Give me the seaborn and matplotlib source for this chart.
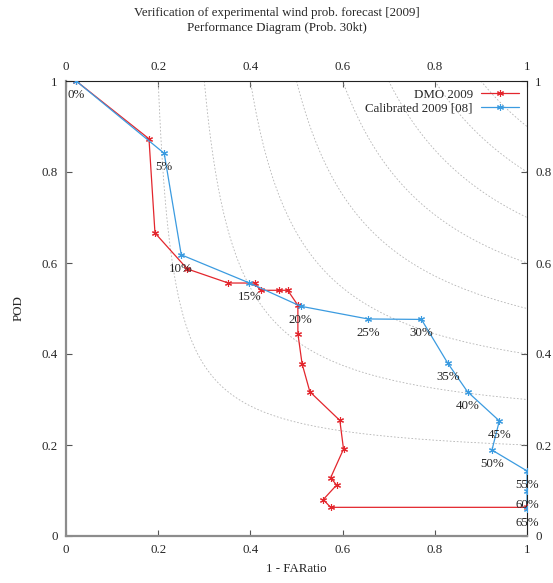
import numpy as np
import matplotlib
matplotlib.use("Agg")
import matplotlib.pyplot as plt
import seaborn as sns

# DMO 2009 (success ratio = 1 - FARatio, POD)
dmo_sr = [0.022, 0.180, 0.193, 0.263, 0.352, 0.409, 0.422, 0.462, 0.481, 0.503,
          0.503, 0.512, 0.529, 0.594, 0.602, 0.574, 0.587, 0.558, 0.574, 1.0]
dmo_pod = [1.0, 0.873, 0.666, 0.587, 0.556, 0.556, 0.540, 0.540, 0.540, 0.507,
           0.445, 0.379, 0.317, 0.254, 0.191, 0.128, 0.112, 0.080, 0.063, 0.063]

# Calibrated 2009 [08]
cal_sr = [0.022, 0.213, 0.250, 0.398, 0.509, 0.655, 0.771, 0.828, 0.871, 0.940,
          0.924, 1.0, 1.0, 1.0]
cal_pod = [1.0, 0.841, 0.618, 0.556, 0.505, 0.477, 0.476, 0.380, 0.317, 0.253,
           0.189, 0.143, 0.098, 0.060]
cal_labels = ["0%", "5%", "10%", "15%", "20%", "25%", "30%", "35%", "40%",
              "45%", "50%", "55%", "60%", "65%"]

# critical success index isolines
csi_levels = [0.2, 0.3, 0.4, 0.5, 0.6, 0.7, 0.8, 0.9]

ticks = [0, 0.2, 0.4, 0.6, 0.8, 1]
tick_labels = ["0", "0.2", "0.4", "0.6", "0.8", "1"]

sns.set_style("ticks")
plt.rcParams['font.family'] = ['Liberation Serif', 'DejaVu Serif']
fs = 9.3

fig = plt.figure(figsize=(5.53, 5.83), dpi=100)
ax = fig.add_axes([66 / 553, 1 - 536 / 583, (527 - 66) / 553, (536 - 81) / 583])

# CSI curves
for c in csi_levels:
    sr = np.linspace(c, 1, 300)
    pod = 1 / (1 / c + 1 - 1 / sr)
    ax.plot(sr, pod, color="#b4b4b4", lw=0.6, ls=(0, (2, 2.2)), zorder=1)

red = "#e3262d"
blue = "#3b9be0"
star = (6, 2, 0)

sns.lineplot(x=dmo_sr, y=dmo_pod, sort=False, estimator=None, ax=ax,
             color=red, lw=0.9, marker=star, markersize=5, markeredgewidth=0.8,
             markeredgecolor=red, label="DMO 2009", zorder=3)
sns.lineplot(x=cal_sr, y=cal_pod, sort=False, estimator=None, ax=ax,
             color=blue, lw=0.9, marker=star, markersize=5, markeredgewidth=0.8,
             markeredgecolor=blue, label="Calibrated 2009 [08]", zorder=4)

for sx, sy, lab in zip(cal_sr, cal_pod, cal_labels):
    ax.annotate(lab, (sx, sy), xytext=(0, -14), textcoords="offset pixels",
                ha="center", va="center", fontsize=fs, zorder=5)

ax.set_xlim(0, 1)
ax.set_ylim(0, 1)
ax.set_xticks(ticks)
ax.set_xticklabels(tick_labels)
ax.set_yticks(ticks)
ax.set_yticklabels(tick_labels)
ax.tick_params(direction="in", length=4, width=0.8, top=True, right=True,
               labeltop=True, labelright=True, pad=6, labelsize=fs,
               color="#555555")

for side in ["left", "bottom"]:
    ax.spines[side].set_color("#8c8c8c")
    ax.spines[side].set_linewidth(1.6)
for side in ["top", "right"]:
    ax.spines[side].set_color("#222222")
    ax.spines[side].set_linewidth(0.8)

ax.set_xlabel("1 - FARatio", fontsize=fs, labelpad=5)
ax.set_ylabel("POD", fontsize=fs, labelpad=12)

ax.legend(loc="upper right", frameon=False, markerfirst=False,
          handlelength=3.0, fontsize=fs, borderaxespad=0.2,
          labelspacing=0.1, handletextpad=0.6)

fig.text(0.5, 1 - 13 / 583, "Verification of experimental wind prob. forecast [2009]",
         ha="center", va="center", fontsize=fs)
fig.text(0.5, 1 - 28 / 583, "Performance Diagram (Prob. 30kt)",
         ha="center", va="center", fontsize=fs)

fig.savefig("out.png", dpi=100)
